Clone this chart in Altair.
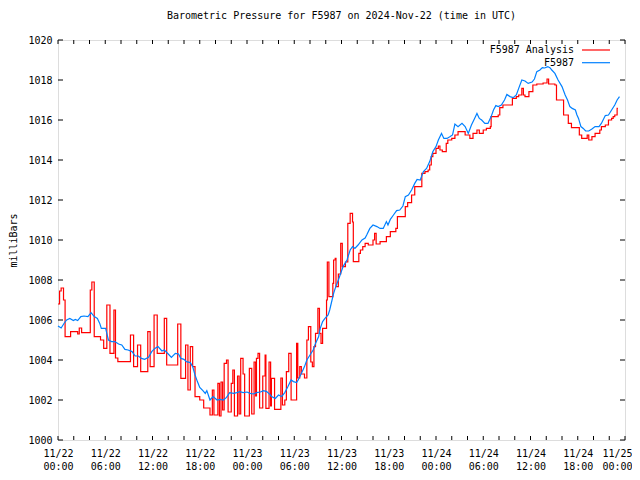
import altair as alt
import pandas as pd

# ---------------- data (hours since 2024-11-22 00:00 UTC, millibars) ----------------
blue_hours = [0.0, 0.4, 0.8, 1.1, 1.5, 1.95, 2.2, 2.5, 2.9, 3.3, 3.8, 4.2, 4.6, 5.0, 5.3, 5.5,
              6.05, 6.2, 6.4, 6.8, 7.2, 7.7, 8.1, 8.5, 8.9, 9.4, 9.8, 10.2, 10.6, 11.0, 11.5,
              11.9, 12.3, 12.7, 13.2, 13.5, 14.0, 14.4, 14.9, 15.3, 15.6, 16.0, 16.3, 16.8,
              17.1, 17.4, 17.7, 18.0, 18.4, 18.7, 18.9, 19.3, 19.7, 20.2, 20.6, 21.0, 21.4,
              21.8, 22.3, 22.7, 23.1, 23.5, 24.0, 24.4, 24.8, 25.2, 25.7, 26.1, 26.5, 26.9,
              27.1, 27.6, 28.0, 28.4, 28.8, 29.2, 29.6, 29.9, 30.3, 30.5, 30.9, 31.3, 31.6,
              32.0, 32.4, 32.7, 33.1, 33.3, 33.6, 33.9, 34.3, 34.5, 34.8, 35.0, 35.2, 35.6,
              35.9, 36.2, 36.7, 37.1, 37.4, 37.7, 38.1, 38.6, 39.0, 39.2, 39.6, 40.0, 40.5,
              40.9, 41.3, 41.7, 41.9, 42.2, 42.6, 43.0, 43.4, 43.8, 44.1, 44.5, 44.9, 45.3,
              45.6, 46.0, 46.4, 46.8, 47.2, 47.6, 48.0, 48.3, 48.7, 49.0, 49.4, 49.8, 50.1,
              50.4, 50.8, 51.3, 51.7, 52.1, 52.5, 52.9, 53.2, 53.5, 53.8, 54.2, 54.6, 55.0,
              55.3, 55.6, 55.9, 56.3, 56.7, 57.0, 57.4, 57.8, 58.2, 58.5, 58.9, 59.3, 59.7,
              60.2, 60.5, 60.8, 61.2, 61.5, 61.8, 62.2, 62.5, 62.7, 63.1, 63.5, 64.0, 64.4,
              64.7, 65.0, 65.3, 65.7, 65.9, 66.1, 66.4, 66.7, 67.0, 67.4, 67.8, 68.2, 68.7,
              69.0, 69.5, 69.9, 70.3, 70.7, 71.0, 71.3]
blue_values = [1005.7, 1005.6, 1005.85, 1006.0, 1006.08, 1005.97, 1006.03, 1005.97, 1006.17,
               1006.2, 1006.17, 1006.37, 1006.17, 1006.08, 1005.83, 1005.58, 1005.58, 1005.33,
               1005.0, 1004.92, 1004.92, 1004.8, 1004.75, 1004.53, 1004.5, 1004.42, 1004.2,
               1004.2, 1004.08, 1004.03, 1004.13, 1004.42, 1004.58, 1004.67, 1004.45, 1004.5,
               1004.3, 1004.13, 1004.33, 1004.3, 1004.08, 1004.03, 1003.92, 1003.87, 1003.67,
               1003.25, 1002.92, 1002.63, 1002.47, 1002.33, 1002.47, 1002.0, 1002.17, 1002.0,
               1002.03, 1002.0, 1002.13, 1002.37, 1002.33, 1002.37, 1002.42, 1002.37, 1002.4,
               1002.33, 1002.3, 1002.37, 1002.4, 1002.47, 1002.42, 1002.28, 1002.17, 1002.08,
               1002.25, 1002.17, 1002.37, 1002.67, 1003.0, 1002.92, 1002.87, 1003.0, 1003.33,
               1003.67, 1004.0, 1004.25, 1004.5, 1004.83, 1005.17, 1005.58, 1005.92, 1006.08,
               1006.25, 1006.5, 1007.0, 1007.33, 1007.58, 1008.0, 1008.33, 1008.67, 1009.0,
               1009.5, 1009.67, 1009.58, 1009.75, 1010.0, 1010.1, 1010.25, 1010.58, 1010.75,
               1010.67, 1010.58, 1010.58, 1010.92, 1010.75, 1011.03, 1011.25, 1011.47, 1011.5,
               1011.7, 1012.17, 1012.25, 1012.5, 1012.83, 1013.03, 1013.0, 1013.42, 1013.58,
               1013.92, 1014.42, 1014.67, 1015.0, 1015.33, 1015.08, 1015.08, 1015.17, 1015.25,
               1015.8, 1015.67, 1015.83, 1015.67, 1015.33, 1015.75, 1016.08, 1016.33, 1016.08,
               1016.0, 1015.83, 1015.83, 1016.17, 1016.5, 1016.72, 1016.67, 1016.75, 1017.0,
               1017.28, 1017.17, 1017.12, 1017.25, 1017.58, 1018.0, 1017.95, 1017.83, 1017.9,
               1018.05, 1018.42, 1018.5, 1018.62, 1018.6, 1018.67, 1018.6, 1018.5, 1018.33,
               1018.0, 1017.67, 1017.25, 1017.0, 1016.67, 1016.58, 1016.5, 1016.25, 1016.08,
               1015.67, 1015.58, 1015.45, 1015.45, 1015.55, 1015.67, 1015.67, 1015.83, 1016.22,
               1016.25, 1016.5, 1016.75, 1017.0, 1017.17]

red_hours = [0.0, 0.2, 0.4, 0.7, 0.9, 1.6, 2.5, 2.7, 3.0, 4.1, 4.3, 4.6, 5.4, 5.8, 6.2, 6.6,
             7.1, 7.3, 7.6, 9.2, 9.6, 10.1, 10.5, 11.4, 11.7, 12.2, 12.6, 13.5, 13.8, 15.2,
             15.6, 16.2, 16.5, 16.8, 17.1, 17.4, 18.0, 18.5, 19.3, 19.6, 19.8, 20.3, 20.5,
             20.7, 20.9, 21.1, 21.4, 21.6, 22.0, 22.2, 22.4, 22.8, 23.0, 23.2, 23.5, 23.7,
             24.3, 24.6, 24.9, 25.1, 25.2, 25.4, 25.6, 26.0, 26.3, 26.4, 26.8, 27.0, 27.1,
             27.5, 28.3, 28.5, 28.8, 29.0, 29.3, 29.6, 30.3, 30.45, 30.7, 30.9, 31.3, 31.6,
             31.8, 32.1, 32.3, 32.5, 32.7, 33.0, 33.2, 33.4, 33.6, 34.1, 34.2, 34.4, 34.9,
             35.0, 35.2, 35.3, 35.6, 35.9, 36.1, 36.5, 36.8, 37.1, 37.4, 37.5, 38.2, 38.4,
             38.7, 39.0, 39.4, 40.0, 40.2, 40.4, 40.9, 41.7, 42.2, 42.9, 43.1, 44.1, 44.4,
             44.9, 45.3, 46.2, 46.6, 47.0, 47.2, 47.4, 47.6, 48.0, 48.3, 48.5, 48.8, 49.3,
             49.5, 50.0, 50.4, 50.8, 51.7, 52.3, 52.7, 53.2, 53.5, 54.0, 54.4, 54.9, 55.0,
             55.9, 56.1, 56.5, 57.7, 58.2, 58.5, 58.9, 59.1, 59.3, 59.8, 60.3, 60.8, 61.6,
             62.1, 62.3, 63.1, 63.3, 64.2, 64.8, 65.2, 66.2, 66.5, 67.2, 67.4, 67.8, 68.2,
             68.8, 69.0, 69.5, 69.9, 70.3, 70.5, 70.7, 71.0, 71.1]
red_values = [1006.8, 1007.45, 1007.6, 1007.0, 1005.17, 1005.42, 1005.3, 1005.6, 1005.37,
              1007.5, 1007.9, 1005.17, 1005.0, 1004.58, 1006.75, 1004.33, 1006.5, 1004.1,
              1003.92, 1005.25, 1003.67, 1004.75, 1003.42, 1005.42, 1003.67, 1006.25, 1004.33,
              1006.08, 1003.75, 1005.8, 1003.08, 1004.75, 1002.5, 1004.67, 1003.67, 1002.17,
              1002.0, 1001.6, 1001.25, 1002.5, 1001.25, 1002.83, 1001.2, 1002.9, 1001.5,
              1003.83, 1004.0, 1001.4, 1002.83, 1003.5, 1001.2, 1003.2, 1001.3, 1004.08,
              1003.3, 1001.2, 1003.58, 1001.3, 1003.9, 1002.2, 1004.08, 1004.33, 1001.6,
              1003.2, 1004.25, 1001.58, 1003.9, 1001.7, 1003.08, 1001.53, 1003.1, 1001.75,
              1002.0, 1003.42, 1004.33, 1002.0, 1004.83, 1003.1, 1003.67, 1003.3, 1003.1,
              1005.0, 1005.67, 1003.9, 1003.67, 1004.67, 1005.33, 1006.58, 1005.33, 1004.83,
              1005.58, 1007.0, 1008.9, 1007.17, 1007.83, 1009.0, 1009.08, 1007.67, 1008.3,
              1009.83, 1008.67, 1008.9, 1010.83, 1011.33, 1010.9, 1008.92, 1009.33, 1009.5,
              1009.67, 1009.83, 1009.75, 1010.0, 1010.33, 1009.8, 1009.92, 1010.17, 1010.42,
              1010.58, 1011.17, 1011.67, 1011.87, 1012.25, 1012.67, 1013.33, 1013.42, 1013.5,
              1013.75, 1014.17, 1014.33, 1014.58, 1014.7, 1014.5, 1014.42, 1014.83, 1015.0,
              1015.08, 1015.25, 1015.42, 1015.25, 1015.08, 1015.33, 1015.5, 1015.33, 1015.5,
              1015.58, 1015.67, 1016.17, 1016.25, 1016.62, 1016.75, 1017.08, 1017.17, 1017.25,
              1017.58, 1017.25, 1017.17, 1017.42, 1017.75, 1017.8, 1017.85, 1018.05, 1017.8,
              1017.75, 1017.0, 1016.25, 1015.83, 1015.62, 1015.25, 1015.08, 1015.25, 1015.0,
              1015.17, 1015.33, 1015.5, 1015.67, 1015.75, 1016.0, 1016.08, 1016.17, 1016.25,
              1016.58, 1016.58]

series_names = ["F5987 Analysis", "F5987"]
series_colors = ["#ff0000", "#0080ff"]
y_ticks = [1000, 1002, 1004, 1006, 1008, 1010, 1012, 1014, 1016, 1018, 1020]
x_minor_ticks = list(range(0, 73, 2))
x_label_hours = list(range(0, 73, 6))
title_text = "Barometric Pressure for F5987 on 2024-Nov-22 (time in UTC)"

FONT = "DejaVu Sans Mono"
W, H = 567, 400

red_df = pd.DataFrame({"h": red_hours, "v": red_values})
blue_df = pd.DataFrame({"h": blue_hours, "v": blue_values})

xs = alt.Scale(domain=[0, 72], nice=False, zero=False)
ys = alt.Scale(domain=[1000, 1020], nice=False, zero=False)

label_expr = ("['11/' + (22 + floor(datum.value / 24)), "
              "(datum.value % 24 < 10 ? '0' : '') + (datum.value % 24) + ':00']")

x_axis = alt.Axis(values=x_label_hours, labelExpr=label_expr, ticks=False, domain=False,
                  grid=False, title=None, labelFont=FONT, labelFontSize=10, labelColor="black",
                  labelBaseline="top", labelPadding=8, labelLineHeight=13,
                  labelAlign={"condition": {"test": "datum.value >= 72", "value": "right"},
                              "value": "center"},
                  labelOffset={"condition": {"test": "datum.value >= 72", "value": 7},
                               "value": 0},
                  labelOverlap=False, labelFlush=False, labelSeparation=0)
y_axis = alt.Axis(values=y_ticks, tickCount=11, format="d", ticks=False, domain=False,
                  grid=False, title="milliBars", labelFont=FONT, labelFontSize=10,
                  labelColor="black", labelPadding=6, labelFlush=False, labelOverlap=False,
                  labelSeparation=0, labelBaseline="middle",
                  titleFont=FONT, titleFontSize=10, titleFontWeight="normal", titleColor="black",
                  titleX=-45, titleY=H / 2, titleAngle=270, titleAlign="center",
                  titleBaseline="middle")


def xenc(field="h"):
    return alt.X(f"{field}:Q", scale=xs, axis=x_axis)


def yenc(field="v"):
    return alt.Y(f"{field}:Q", scale=ys, axis=y_axis)


red = alt.Chart(red_df).mark_line(color=series_colors[0], strokeWidth=1.2,
                                  interpolate="step-after").encode(x=xenc(), y=yenc())
blue = alt.Chart(blue_df).mark_line(color=series_colors[1], strokeWidth=1.2).encode(
    x=xenc(), y=yenc())

ytick_df = pd.DataFrame({"v": y_ticks})
xtick_df = pd.DataFrame({"h": x_minor_ticks})

left_ticks = alt.Chart(ytick_df).mark_rule(color="black", strokeWidth=1).encode(
    y=yenc(), x=alt.value(0), x2=alt.value(5))
right_ticks = alt.Chart(ytick_df).mark_rule(color="black", strokeWidth=1).encode(
    y=yenc(), x=alt.value(W - 5), x2=alt.value(W))
bottom_ticks = alt.Chart(xtick_df).mark_rule(color="black", strokeWidth=1).encode(
    x=xenc(), y=alt.value(H), y2=alt.value(H - 4))
top_ticks = alt.Chart(xtick_df).mark_rule(color="black", strokeWidth=1).encode(
    x=xenc(), y=alt.value(0), y2=alt.value(4))

legend_layers = []
for i, (name, color) in enumerate(zip(series_names, series_colors)):
    ldf = pd.DataFrame({"name": [name]})
    ypos = 10 + 12.7 * i
    legend_layers.append(
        alt.Chart(ldf).mark_text(align="right", baseline="middle", font=FONT, fontSize=10,
                                 color="black").encode(
            text="name:N", x=alt.value(516), y=alt.value(ypos)))
    legend_layers.append(
        alt.Chart(ldf).mark_rule(color=color, strokeWidth=1.2).encode(
            x=alt.value(524), x2=alt.value(552), y=alt.value(ypos)))

chart = alt.layer(
    red, blue, left_ticks, right_ticks, bottom_ticks, top_ticks, *legend_layers
).properties(
    width=W, height=H,
    title=alt.Title(title_text, font=FONT, fontSize=10, fontWeight="normal", color="black",
                    anchor="middle", offset=14),
    padding={"left": 50, "top": 32, "right": 7, "bottom": 34},
    autosize=alt.AutoSizeParams(type="none"),
).configure_view(
    stroke="black", strokeWidth=1
).configure_axis(
    labelOverlap=False
).configure(background="white")

chart.save("out.html", embed_options={"renderer": "svg", "actions": False})
